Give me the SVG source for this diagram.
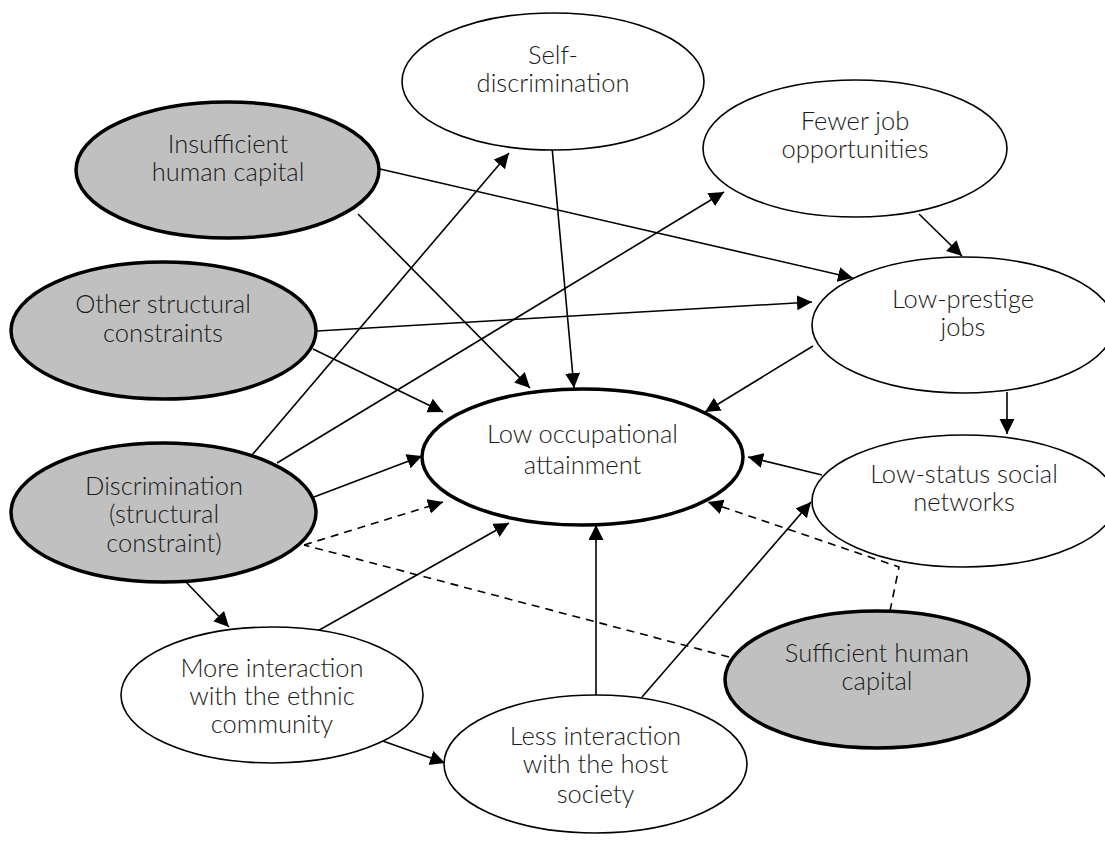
<svg xmlns="http://www.w3.org/2000/svg" width="1105" height="847" viewBox="0 0 1105 847">
<defs>
<marker id="ah" markerUnits="userSpaceOnUse" markerWidth="16" markerHeight="16" refX="15" refY="7.5" orient="auto">
<path d="M0,0 L15,7.5 L0,15 z" fill="#000"/>
</marker>
<style>
.n{fill:#fff;stroke:#000;stroke-width:1.6}
.g{fill:#c0c0c0;stroke:#000;stroke-width:3.5}
.k{fill:#fff;stroke:#000;stroke-width:3.5}
.t{font-family:Lato,"Liberation Sans",Arial,sans-serif;font-weight:300;font-size:25.5px;fill:#1a1a1a;text-anchor:middle}
.c{fill:none;stroke:#000;stroke-width:1.6}
.d{fill:none;stroke:#000;stroke-width:1.6;stroke-dasharray:8 6}
</style>
</defs>
<rect width="1105" height="847" fill="#fff"/>
<g id="connectors">
<line class="c" x1="380" y1="169" x2="853" y2="278" marker-end="url(#ah)"/>
<line class="c" x1="358" y1="214" x2="530" y2="388" marker-end="url(#ah)"/>
<line class="c" x1="552" y1="147" x2="574" y2="388" marker-end="url(#ah)"/>
<line class="c" x1="919" y1="214" x2="962" y2="256" marker-end="url(#ah)"/>
<line class="c" x1="317" y1="331" x2="812" y2="302" marker-end="url(#ah)"/>
<line class="c" x1="313" y1="349" x2="443" y2="412" marker-end="url(#ah)"/>
<line class="c" x1="813" y1="346" x2="705" y2="412" marker-end="url(#ah)"/>
<line class="c" x1="1007" y1="392" x2="1007" y2="434" marker-end="url(#ah)"/>
<line class="c" x1="822" y1="475" x2="748" y2="457" marker-end="url(#ah)"/>
<line class="c" x1="252" y1="455" x2="509" y2="153" marker-end="url(#ah)"/>
<line class="c" x1="277" y1="463" x2="724" y2="192" marker-end="url(#ah)"/>
<line class="c" x1="314" y1="497" x2="422" y2="456" marker-end="url(#ah)"/>
<line class="c" x1="186" y1="582" x2="229" y2="627" marker-end="url(#ah)"/>
<line class="c" x1="314" y1="633" x2="509" y2="523" marker-end="url(#ah)"/>
<line class="c" x1="380" y1="740" x2="445" y2="763" marker-end="url(#ah)"/>
<line class="c" x1="596" y1="695" x2="596" y2="525" marker-end="url(#ah)"/>
<line class="c" x1="642" y1="697" x2="811" y2="502" marker-end="url(#ah)"/>
<line class="d" x1="304" y1="545" x2="443" y2="502" marker-end="url(#ah)"/>
<line class="d" x1="729" y1="657" x2="304" y2="545"/>
<polyline class="d" points="890,611 899,567 708,502" marker-end="url(#ah)"/>
</g>
<g id="self-discrimination">
<ellipse class="n" cx="553" cy="81.5" rx="151" ry="68.5"/>
<text class="t" x="553" y="64">Self-</text>
<text class="t" x="553" y="92">discrimination</text>
</g>
<g id="insufficient-human-capital">
<ellipse class="g" cx="227.5" cy="170" rx="151.5" ry="68"/>
<text class="t" x="228" y="153">Insufficient</text>
<text class="t" x="228" y="181">human capital</text>
</g>
<g id="fewer-job-opportunities">
<ellipse class="n" cx="855" cy="148.5" rx="152" ry="68.5"/>
<text class="t" x="855" y="130">Fewer job</text>
<text class="t" x="855" y="158">opportunities</text>
</g>
<g id="other-structural-constraints">
<ellipse class="g" cx="163.5" cy="330.5" rx="152.5" ry="68.5"/>
<text class="t" x="163" y="313">Other structural</text>
<text class="t" x="163" y="342">constraints</text>
</g>
<g id="low-prestige-jobs">
<ellipse class="n" cx="963" cy="325" rx="151" ry="68"/>
<text class="t" x="963" y="308">Low-prestige</text>
<text class="t" x="963" y="336">jobs</text>
</g>
<g id="low-occupational-attainment">
<ellipse class="k" cx="582.5" cy="457" rx="160.5" ry="68"/>
<text class="t" x="582.5" y="443">Low occupational</text>
<text class="t" x="582.5" y="474">attainment</text>
</g>
<g id="low-status-social-networks">
<ellipse class="n" cx="964" cy="501" rx="152" ry="66"/>
<text class="t" x="964" y="483">Low-status social</text>
<text class="t" x="964" y="511">networks</text>
</g>
<g id="discrimination">
<ellipse class="g" cx="163.5" cy="512.5" rx="152.5" ry="69.5"/>
<text class="t" x="164" y="495">Discrimination</text>
<text class="t" x="164" y="523">(structural</text>
<text class="t" x="164" y="552">constraint)</text>
</g>
<g id="sufficient-human-capital">
<ellipse class="g" cx="877" cy="679.5" rx="152" ry="68.5"/>
<text class="t" x="877" y="662">Sufficient human</text>
<text class="t" x="877" y="690">capital</text>
</g>
<g id="more-interaction">
<ellipse class="n" cx="272" cy="695" rx="151" ry="68"/>
<text class="t" x="272" y="677">More interaction</text>
<text class="t" x="272" y="705">with the ethnic</text>
<text class="t" x="272" y="733">community</text>
</g>
<g id="less-interaction">
<ellipse class="n" cx="595.5" cy="764" rx="151.5" ry="69"/>
<text class="t" x="595.5" y="745">Less interaction</text>
<text class="t" x="595.5" y="773">with the host</text>
<text class="t" x="595.5" y="803">society</text>
</g>
</svg>
